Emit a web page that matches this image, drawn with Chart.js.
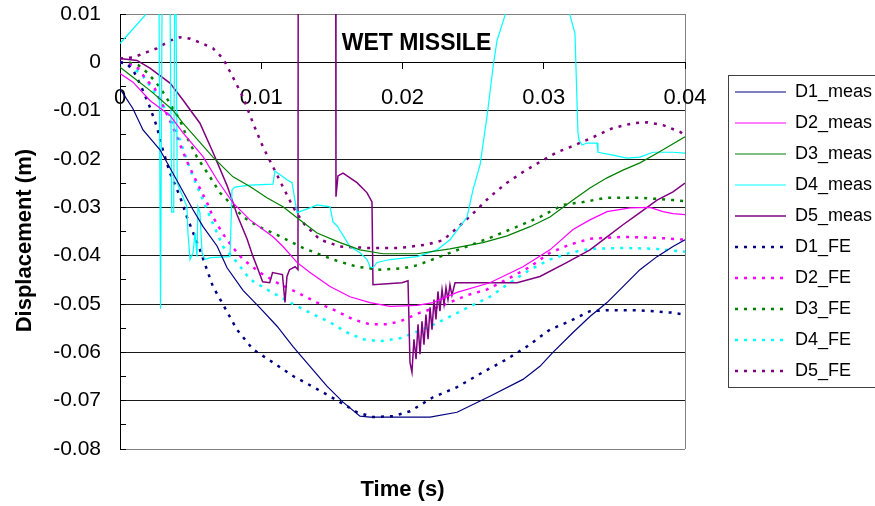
<!DOCTYPE html>
<html>
<head>
<meta charset="utf-8">
<script src="https://cdn.jsdelivr.net/npm/chart.js@4.4.1/dist/chart.umd.min.js"></script>
<style>
  html, body { margin: 0; padding: 0; background: #fff; }
</style>
</head>
<body>
<canvas id="chart" width="875" height="506"></canvas>
<script>
// [time ms, displacement mm]
var d1Meas = [[0,-5.5],[0.9,-9.5],[1.63,-14.0],[2.83,-18.1],[4.04,-24.5],[5.17,-30.5],[5.88,-34.0],[6.87,-38.0],[7.58,-42.5],[8.71,-47.2],[9.91,-50.8],[11.12,-54.6],[12.25,-58.8],[13.45,-62.9],[14.65,-67.0],[15.79,-70.3],[16.99,-73.2],[17.7,-73.4],[21.95,-73.4],[23.86,-72.4],[26.19,-69.1],[28.53,-65.6],[29.73,-62.9],[30.65,-60.0],[32.07,-55.9],[33.27,-52.6],[34.48,-49.7],[35.61,-46.4],[36.81,-42.9],[38.02,-40.2],[39.15,-38.1],[40,-36.7]];
var d2Meas = [[0,-2.3],[0.92,-4.1],[2.12,-7.9],[3.54,-11.0],[4.46,-14.6],[5.88,-19.5],[6.87,-24.3],[8.0,-29.1],[9.2,-32.6],[10.83,-36.1],[11.54,-38.1],[12.53,-41.4],[13.45,-43.5],[14.87,-46.4],[16.28,-48.5],[17.7,-49.7],[19.12,-50.5],[21.03,-50.3],[22.16,-49.7],[23.86,-47.6],[26.19,-45.6],[28.53,-42.3],[30.44,-38.8],[32.07,-34.6],[33.27,-32.6],[34.48,-30.9],[36.11,-30.1],[37.52,-30.0],[38.44,-30.9],[39.15,-31.3],[40,-31.5]];
var d3Meas = [[0,-1.0],[0.92,-3.1],[2.12,-5.8],[3.75,-9.9],[4.46,-12.6],[6.58,-19.6],[8.0,-23.7],[9.2,-25.7],[10.4,-28.0],[11.54,-29.9],[12.74,-32.6],[13.95,-35.3],[15.58,-37.3],[16.99,-38.8],[18.62,-39.6],[21.03,-39.6],[23.36,-38.6],[25.7,-37.3],[27.4,-35.9],[29.03,-34.0],[30.44,-32.0],[32.07,-28.5],[33.27,-26.0],[34.48,-23.9],[35.61,-22.3],[36.81,-20.8],[38.02,-18.8],[40,-15.4]];
var d4Meas = [[0,3.9],[1.77,9.7],[2.0,14],[2.76,14],[2.87,-51],[2.98,14],[3.54,14],[3.66,-31],[3.8,-31],[3.87,14],[3.96,14],[4.05,-25],[4.25,-26.4],[4.74,-29.9],[4.81,-35.3],[4.96,-40.8],[5.17,-39.4],[5.31,-35.3],[5.45,-40.2],[5.52,-29.9],[5.66,-31.1],[5.81,-39.4],[6.02,-40.8],[6.37,-40.4],[7.79,-40.2],[7.93,-26.4],[8.14,-25.8],[9.2,-25.4],[10.83,-25.2],[10.97,-22.5],[11.82,-24.3],[12.18,-24.9],[12.53,-31.1],[13.45,-30.1],[13.95,-29.5],[14.87,-29.9],[15.08,-33.0],[15.36,-33.8],[16.28,-38.1],[16.99,-39.4],[17.49,-40.8],[17.7,-42.3],[17.91,-42.5],[18.19,-41.4],[19.12,-40.8],[21.03,-40.2],[22.44,-38.8],[23.36,-36.7],[24.57,-32.0],[24.99,-26.4],[25.49,-21.2],[25.98,-11.3],[26.41,-1.0],[26.69,4.5],[27.26,9.7],[27.6,14],[31.5,14],[31.86,9.7],[32.21,6.0],[32.42,-14.6],[32.5,-16.1],[32.71,-17.1],[33.06,-16.7],[33.77,-16.7],[33.84,-18.6],[34.9,-19.2],[35.89,-19.8],[36.81,-19.6],[37.73,-18.6],[39.15,-18.6],[40,-18.8]];
var d5Meas = [[0,0.8],[1.2,0.4],[2.12,-1.2],[3.54,-4.3],[4.46,-7.8],[5.66,-12.6],[6.58,-18.6],[7.58,-25.5],[8.0,-29.0],[8.28,-31.5],[8.99,-36.5],[9.42,-40.2],[9.7,-42.3],[10.1,-45.4],[10.6,-45.6],[10.8,-43.5],[11.5,-43.9],[11.68,-49.7],[11.82,-44.3],[12.0,-42.9],[12.4,-42.3],[12.6,-42.9],[12.62,30],[15.27,30],[15.29,-27.8],[15.43,-23.5],[15.79,-22.9],[16.78,-24.9],[17.49,-27.0],[17.84,-28.9],[17.91,-46.0],[19.96,-45.6],[20.39,-45.2],[20.53,-62.1],[20.67,-64.1],[20.81,-57.3],[20.96,-61.4],[21.1,-54.2],[21.24,-60.4],[21.38,-53.6],[21.52,-58.4],[21.66,-52.2],[21.81,-57.3],[21.95,-50.7],[22.09,-55.3],[22.23,-49.1],[22.37,-53.2],[22.51,-47.4],[22.65,-51.5],[22.8,-47.0],[22.94,-50.1],[23.08,-46.6],[23.22,-49.1],[23.36,-46.0],[23.5,-48.2],[23.72,-45.6],[28.11,-45.6],[29.73,-44.3],[31.65,-41.4],[33.27,-38.8],[34.48,-36.1],[35.61,-33.6],[36.81,-31.1],[38.02,-28.5],[39.15,-26.8],[40,-25.0]];
var d1Fe = [[0,0],[0.5,-0.3],[1.0,-2.0],[1.5,-5.0],[2.12,-9.3],[2.62,-13.4],[2.97,-17.5],[3.54,-22.9],[4.25,-27.8],[4.74,-32.0],[5.66,-38.8],[6.58,-46.4],[7.22,-49.7],[8.28,-55.3],[9.42,-59.4],[10.83,-62.1],[12.25,-64.9],[13.95,-67.6],[15.58,-70.3],[16.78,-72.4],[17.91,-73.4],[19.33,-73.2],[20.53,-72.2],[22.16,-69.3],[23.86,-67.2],[25.7,-64.1],[27.4,-61.4],[28.81,-58.8],[30.44,-55.3],[31.65,-53.8],[33.27,-51.5],[34.48,-51.3],[36.81,-51.3],[39.15,-51.8],[40,-52.2]];
var d2Fe = [[0,0],[0.5,-0.2],[1.2,-1.0],[1.9,-3.7],[2.48,-5.5],[3.19,-9.9],[3.68,-13.0],[4.39,-18.0],[4.74,-20.5],[5.45,-24.9],[6.16,-29.0],[6.58,-32.0],[7.29,-35.5],[7.93,-38.1],[8.71,-40.8],[9.91,-43.5],[11.12,-45.6],[12.53,-47.6],[13.95,-49.7],[15.36,-51.5],[16.5,-53.2],[17.7,-54.2],[18.9,-54.2],[19.82,-53.6],[21.24,-51.8],[22.65,-50.5],[24.57,-48.2],[25.98,-47.0],[27.4,-44.9],[29.03,-42.3],[30.44,-39.4],[31.86,-37.7],[33.27,-36.5],[35.61,-36.1],[38.02,-36.3],[40,-36.7]];
var d3Fe = [[0,0],[0.7,-0.1],[1.3,-0.6],[2.0,-2.3],[2.83,-5.2],[3.54,-8.5],[4.25,-12.0],[4.74,-15.5],[5.45,-19.6],[6.37,-23.7],[7.08,-27.0],[7.79,-29.1],[8.71,-32.0],[9.7,-33.8],[11.12,-35.7],[12.96,-38.4],[15.08,-40.8],[16.78,-42.3],[18.4,-42.9],[20.04,-42.6],[21.03,-42.0],[22.65,-40.2],[24.28,-38.4],[26.19,-36.3],[28.11,-34.0],[29.73,-32.0],[31.36,-29.5],[32.78,-28.9],[34.48,-28.0],[36.81,-28.0],[39.15,-28.5],[40,-28.7]];
var d4Fe = [[0,0],[0.7,-0.6],[1.6,-2.7],[2.83,-7.8],[3.68,-12.0],[4.25,-16.1],[4.74,-20.2],[5.17,-23.7],[5.66,-27.0],[6.37,-32.0],[6.87,-35.3],[7.29,-38.1],[8.28,-41.4],[9.2,-44.9],[10.41,-47.0],[12.04,-49.7],[13.45,-51.8],[14.87,-53.8],[16.07,-55.9],[17.2,-57.3],[18.4,-57.7],[19.82,-57.1],[20.53,-56.3],[21.95,-54.6],[23.36,-52.6],[24.78,-50.5],[26.19,-48.5],[27.61,-45.6],[29.03,-42.9],[30.44,-40.8],[31.86,-39.4],[33.27,-38.6],[35.61,-38.4],[38.02,-38.6],[40,-39.2]];
var d5Fe = [[0,0.8],[0.92,1.0],[1.9,2.1],[2.62,2.9],[3.54,4.5],[4.25,5.2],[4.96,4.9],[5.66,4.1],[6.58,2.9],[7.29,0.8],[8.0,-3.1],[8.71,-7.2],[9.42,-12.6],[10.12,-17.5],[10.83,-21.6],[11.54,-25.8],[12.25,-29.9],[12.96,-33.2],[14.16,-36.7],[15.58,-38.1],[17.49,-38.4],[19.82,-38.4],[21.73,-37.7],[22.87,-36.8],[24.28,-33.2],[25.27,-30.5],[26.19,-27.8],[27.4,-24.9],[28.53,-22.7],[29.73,-20.6],[30.94,-18.6],[32.07,-17.3],[33.49,-15.5],[34.9,-13.6],[36.32,-12.6],[37.31,-12.4],[38.44,-13.0],[39.65,-14.4],[40,-15.1]];

var seriesLabels = ["D1_meas", "D2_meas", "D3_meas", "D4_meas", "D5_meas", "D1_FE", "D2_FE", "D3_FE", "D4_FE", "D5_FE"];
var seriesData = [d1Meas, d2Meas, d3Meas, d4Meas, d5Meas, d1Fe, d2Fe, d3Fe, d4Fe, d5Fe];
var seriesColors = ["#000080", "#ff00ff", "#008000", "#00ffff", "#800080", "#000080", "#ff00ff", "#008000", "#00ffff", "#800080"];

var chartTitle = "WET MISSILE";
var xTitle = "Time (s)";
var yTitle = "Displacement (m)";
var xMin = 0, xMax = 0.04, xStep = 0.01;
var yMin = -0.08, yMax = 0.01, yMinorStep = 0.005;

var fontFamily = "Arial, 'Liberation Sans', sans-serif";
Chart.defaults.font.family = fontFamily;
Chart.defaults.color = "#000";

var toPoints = pairs => pairs.map(p => ({ x: p[0] / 1000, y: p[1] / 1000 }));

var datasets = seriesLabels.map((label, i) => {
  var fe = label.indexOf("_FE") > 0;
  return {
    label: label,
    data: toPoints(seriesData[i]),
    borderColor: seriesColors[i],
    backgroundColor: seriesColors[i],
    borderWidth: fe ? 2.5 : (i === 4 ? 1.5 : 1.2),
    borderDash: fe ? [3, 6] : [],
    pointRadius: 0,
    tension: 0,
    fill: false
  };
});

var isMajor = v => Math.round(v * 1000) % 10 === 0;

// legend samples should look like the dataset lines (dotted for FE)
var legendLabels = function(chart) {
  var items = Chart.defaults.plugins.legend.labels.generateLabels(chart);
  return items.map(item => {
    var ds = chart.data.datasets[item.datasetIndex];
    item.lineDash = ds.borderDash;
    item.lineWidth = ds.borderWidth;
    item.strokeStyle = ds.borderColor;
    item.pointStyle = "line";
    return item;
  });
};

var insideTitle = {
  id: "insideTitle",
  afterDatasetsDraw: function(chart) {
    var ctx = chart.ctx;
    var area = chart.chartArea;
    ctx.save();
    ctx.font = "bold 23px " + fontFamily;
    ctx.fillStyle = "#000";
    ctx.textAlign = "center";
    ctx.textBaseline = "middle";
    ctx.fillText(chartTitle, (area.left + area.right) / 2 + 14, area.top + 30);
    ctx.restore();
  }
};

// legend sits a bit right of the plot, and its frame runs off the canvas
var legendFrame = {
  id: "legendFrame",
  afterLayout: function(chart) {
    var lg = chart.legend;
    lg.left += 37;
    lg.right += 37;
  },
  afterDraw: function(chart) {
    var lg = chart.legend;
    var boxes = lg.legendHitBoxes;
    if (!boxes || !boxes.length) return;
    var last = boxes[boxes.length - 1];
    var top = Math.round(boxes[0].top - 8) + 0.5;
    var bottom = Math.round(last.top + last.height + 7) + 0.5;
    var left = Math.round(lg.left + 6) + 0.5;
    var ctx = chart.ctx;
    ctx.save();
    ctx.strokeStyle = "#404040";
    ctx.lineWidth = 1;
    ctx.strokeRect(left, top, chart.width + 10 - left, bottom - top);
    ctx.restore();
  }
};

var ctx = document.getElementById("chart").getContext("2d");
var myChart = new Chart(ctx, {
  type: "line",
  data: { datasets: datasets },
  plugins: [insideTitle, legendFrame],
  options: {
    responsive: false,
    animation: false,
    layout: { padding: { top: 14, left: 0, right: 0, bottom: 0 } },
    plugins: {
      tooltip: { enabled: false },
      legend: {
        position: "right",
        fullSize: false,
        maxWidth: 153,
        labels: {
          usePointStyle: true,
          pointStyle: "line",
          pointStyleWidth: 51,
          padding: 13,
          color: "#000",
          font: { size: 18 },
          generateLabels: legendLabels
        }
      }
    },
    scales: {
      x: {
        type: "linear",
        position: { y: 0 },
        min: xMin,
        max: xMax,
        ticks: {
          stepSize: xStep,
          padding: 16,
          font: { size: 22 },
          callback: v => String(Math.round(v * 100) / 100)
        },
        grid: {
          color: c => (Math.abs(c.tick.value - xMax) < 1e-9 ? "#808080" : "rgba(0,0,0,0)"),
          tickColor: "#000",
          tickLength: 6
        },
        border: { color: "#000" },
        afterFit: s => { s.paddingRight = 190; }
      },
      x2: {
        type: "linear",
        position: "bottom",
        min: xMin,
        max: xMax,
        ticks: { display: false },
        grid: { display: false, drawTicks: false },
        border: { display: false },
        title: {
          display: true,
          text: xTitle,
          font: { size: 22, weight: "bold" },
          padding: { top: 0, bottom: 3 }
        },
        afterFit: s => { s.height = 57; }
      },
      y: {
        min: yMin,
        max: yMax,
        ticks: {
          stepSize: yMinorStep,
          autoSkip: false,
          padding: 25,
          font: { size: 21 },
          callback: v => (isMajor(v) ? String(Math.round(v * 100) / 100) : "")
        },
        grid: {
          color: c => {
            var v = Math.round(c.tick.value * 1000);
            if (v % 10 !== 0) return "rgba(0,0,0,0)";
            if (v === 10 || v === -80) return "#808080";
            return "#1a1a1a";
          },
          tickColor: "#000",
          tickLength: -6
        },
        border: { color: "#000" },
        title: {
          display: true,
          text: yTitle + "\u00a0\u00a0\u00a0",
          font: { size: 22, weight: "bold" },
          padding: { top: 12, bottom: 0 }
        },
        afterFit: s => {
          s.width = 120;
          s.paddingTop = 0;
          s.paddingBottom = 0;
        }
      }
    }
  }
});
</script>
</body>
</html>
